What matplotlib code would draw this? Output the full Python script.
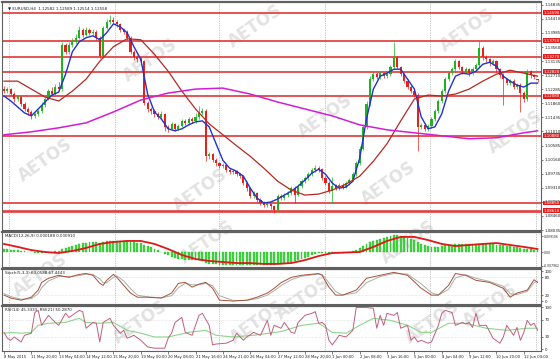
import matplotlib
matplotlib.use("Agg")
import matplotlib.pyplot as plt
import numpy as np

# ---- EURUSD H4 candles (8 May - 12 Jun 2015) ----
bar_open = [
    1.1229, 1.1223, 1.1229, 1.1214, 1.1199, 1.1205, 1.1184, 1.1169, 1.1160, 1.1148,
    1.1154, 1.1163, 1.1181, 1.1199, 1.1223, 1.1214, 1.1235, 1.1229, 1.1363, 1.1342,
    1.1363, 1.1372, 1.1384, 1.1408, 1.1393, 1.1408, 1.1399, 1.1402, 1.1384, 1.1328,
    1.1414, 1.1432, 1.1438, 1.1432, 1.1426, 1.1408, 1.1402, 1.1384, 1.1342, 1.1325,
    1.1319, 1.1313, 1.1187, 1.1169, 1.1163, 1.1154, 1.1145, 1.1154, 1.1115, 1.1109,
    1.1124, 1.1109, 1.1118, 1.1133, 1.1127, 1.1139, 1.1133, 1.1145, 1.1157, 1.1163,
    1.1026, 1.1032, 1.1014, 1.1005, 1.0996, 1.0999, 1.0984, 1.0978, 1.0981, 1.0972,
    1.0966, 1.0945, 1.0930, 1.0906, 1.0915, 1.0894, 1.0885, 1.0879, 1.0882, 1.0876,
    1.0864, 1.0906, 1.0900, 1.0909, 1.0915, 1.0930, 1.0909, 1.0936, 1.0951, 1.0960,
    1.0972, 1.0984, 1.0990, 1.0987, 1.0960, 1.0945, 1.0921, 1.0936, 1.0930, 1.0939,
    1.0933, 1.0945, 1.0954, 1.0972, 1.1005, 1.1049, 1.1115, 1.1184, 1.1259, 1.1274,
    1.1265, 1.1277, 1.1268, 1.1274, 1.1295, 1.1325, 1.1295, 1.1274, 1.1253, 1.1235,
    1.1223, 1.1211, 1.1115, 1.1121, 1.1109, 1.1118, 1.1139, 1.1163, 1.1193, 1.1223,
    1.1259, 1.1277, 1.1289, 1.1313, 1.1295, 1.1283, 1.1289, 1.1277, 1.1289, 1.1301,
    1.1354, 1.1325, 1.1319, 1.1307, 1.1313, 1.1289, 1.1271, 1.1259, 1.1247, 1.1253,
    1.1235, 1.1241, 1.1217, 1.1199, 1.1283, 1.1271, 1.1258]
bar_high = [
    1.1238, 1.1236, 1.1233, 1.1220, 1.1212, 1.1209, 1.1190, 1.1175, 1.1165, 1.1160,
    1.1170, 1.1190, 1.1206, 1.1230, 1.1236, 1.1243, 1.1250, 1.1370, 1.1368, 1.1372,
    1.1383, 1.1395, 1.1420, 1.1414, 1.1416, 1.1413, 1.1410, 1.1407, 1.1390, 1.1420,
    1.1441, 1.1453, 1.1446, 1.1437, 1.1430, 1.1414, 1.1408, 1.1388, 1.1348, 1.1331,
    1.1326, 1.1318, 1.1192, 1.1176, 1.1170, 1.1160, 1.1162, 1.1158, 1.1121, 1.1130,
    1.1128, 1.1125, 1.1140, 1.1138, 1.1146, 1.1145, 1.1158, 1.1178, 1.1172, 1.1168,
    1.1040, 1.1037, 1.1020, 1.1010, 1.1006, 1.1003, 1.0990, 1.0987, 1.0986, 1.0977,
    1.0970, 1.0950, 1.0934, 1.0921, 1.0919, 1.0899, 1.0890, 1.0888, 1.0886, 1.0880,
    1.0912, 1.0911, 1.0915, 1.0921, 1.0936, 1.0935, 1.0942, 1.0957, 1.0967, 1.0980,
    1.0992, 1.0999, 1.0996, 1.0991, 1.0966, 1.0950, 1.0963, 1.0942, 1.0945, 1.0944,
    1.0951, 1.0960, 1.0979, 1.1012, 1.1057, 1.1124, 1.1192, 1.1268, 1.1283, 1.1280,
    1.1285, 1.1282, 1.1281, 1.1302, 1.1372, 1.1330, 1.1300, 1.1279, 1.1258, 1.1240,
    1.1228, 1.1216, 1.1128, 1.1126, 1.1124, 1.1146, 1.1170, 1.1200, 1.1230, 1.1266,
    1.1285, 1.1297, 1.1321, 1.1318, 1.1300, 1.1296, 1.1294, 1.1295, 1.1308, 1.1378,
    1.1360, 1.1331, 1.1324, 1.1320, 1.1318, 1.1294, 1.1277, 1.1264, 1.1260, 1.1258,
    1.1248, 1.1246, 1.1222, 1.1290, 1.1288, 1.1276, 1.1259]
bar_low = [
    1.1216, 1.1218, 1.1208, 1.1191, 1.1194, 1.1178, 1.1162, 1.1152, 1.1140, 1.1142,
    1.1149, 1.1158, 1.1176, 1.1195, 1.1208, 1.1209, 1.1222, 1.1224, 1.1335, 1.1336,
    1.1357, 1.1366, 1.1380, 1.1386, 1.1388, 1.1392, 1.1393, 1.1378, 1.1322, 1.1324,
    1.1409, 1.1426, 1.1425, 1.1418, 1.1400, 1.1394, 1.1378, 1.1336, 1.1316, 1.1310,
    1.1306, 1.1180, 1.1160, 1.1155, 1.1146, 1.1138, 1.1140, 1.1103, 1.1100, 1.1104,
    1.1102, 1.1104, 1.1114, 1.1121, 1.1122, 1.1127, 1.1128, 1.1140, 1.1150, 1.1011,
    1.1018, 1.1008, 1.0998, 1.0990, 1.0991, 1.0978, 1.0972, 1.0972, 1.0966, 1.0960,
    1.0940, 1.0922, 1.0899, 1.0900, 1.0887, 1.0878, 1.0872, 1.0874, 1.0868, 1.0854,
    1.0860, 1.0893, 1.0894, 1.0903, 1.0910, 1.0885, 1.0905, 1.0930, 1.0946, 1.0955,
    1.0968, 1.0979, 1.0980, 1.0954, 1.0938, 1.0914, 1.0885, 1.0924, 1.0925, 1.0927,
    1.0929, 1.0940, 1.0950, 1.0968, 1.1000, 1.1044, 1.1110, 1.1178, 1.1252, 1.1258,
    1.1260, 1.1262, 1.1263, 1.1270, 1.1290, 1.1289, 1.1268, 1.1247, 1.1228, 1.1216,
    1.1204, 1.1043, 1.1108, 1.1102, 1.1103, 1.1113, 1.1134, 1.1158, 1.1188, 1.1218,
    1.1252, 1.1272, 1.1284, 1.1289, 1.1276, 1.1278, 1.1270, 1.1272, 1.1284, 1.1296,
    1.1318, 1.1312, 1.1300, 1.1301, 1.1282, 1.1264, 1.1180, 1.1240, 1.1241, 1.1228,
    1.1229, 1.1160, 1.1190, 1.1194, 1.1264, 1.1259, 1.1251]
bar_close = [
    1.1223, 1.1229, 1.1214, 1.1199, 1.1205, 1.1184, 1.1169, 1.1160, 1.1148, 1.1154,
    1.1163, 1.1181, 1.1199, 1.1223, 1.1214, 1.1235, 1.1229, 1.1363, 1.1342, 1.1363,
    1.1372, 1.1384, 1.1408, 1.1393, 1.1408, 1.1399, 1.1402, 1.1384, 1.1328, 1.1414,
    1.1432, 1.1438, 1.1432, 1.1426, 1.1408, 1.1402, 1.1384, 1.1342, 1.1325, 1.1319,
    1.1313, 1.1187, 1.1169, 1.1163, 1.1154, 1.1145, 1.1154, 1.1115, 1.1109, 1.1124,
    1.1109, 1.1118, 1.1133, 1.1127, 1.1139, 1.1133, 1.1145, 1.1157, 1.1163, 1.1026,
    1.1032, 1.1014, 1.1005, 1.0996, 1.0999, 1.0984, 1.0978, 1.0981, 1.0972, 1.0966,
    1.0945, 1.0930, 1.0906, 1.0915, 1.0894, 1.0885, 1.0879, 1.0882, 1.0876, 1.0864,
    1.0906, 1.0900, 1.0909, 1.0915, 1.0930, 1.0909, 1.0936, 1.0951, 1.0960, 1.0972,
    1.0984, 1.0990, 1.0987, 1.0960, 1.0945, 1.0921, 1.0936, 1.0930, 1.0939, 1.0933,
    1.0945, 1.0954, 1.0972, 1.1005, 1.1049, 1.1115, 1.1184, 1.1259, 1.1274, 1.1265,
    1.1277, 1.1268, 1.1274, 1.1295, 1.1325, 1.1295, 1.1274, 1.1253, 1.1235, 1.1223,
    1.1211, 1.1115, 1.1121, 1.1109, 1.1118, 1.1139, 1.1163, 1.1193, 1.1223, 1.1259,
    1.1277, 1.1289, 1.1313, 1.1295, 1.1283, 1.1289, 1.1277, 1.1289, 1.1301, 1.1354,
    1.1325, 1.1319, 1.1307, 1.1313, 1.1289, 1.1271, 1.1259, 1.1247, 1.1253, 1.1235,
    1.1241, 1.1217, 1.1199, 1.1283, 1.1271, 1.1265, 1.1256]

# moving averages (blue every 2 bars, red every 4, magenta every 8)
ma_fast = [
    1.1208, 1.1193, 1.1175, 1.1157, 1.1148, 1.1169, 1.1190, 1.1211, 1.1220, 1.1274,
    1.1342, 1.1372, 1.1384, 1.1390, 1.1378, 1.1399, 1.1426, 1.1417, 1.1399, 1.1357,
    1.1319, 1.1214, 1.1160, 1.1139, 1.1109, 1.1103, 1.1109, 1.1121, 1.1130, 1.1133,
    1.1115, 1.1064, 1.1014, 1.0990, 1.0981, 1.0966, 1.0930, 1.0900, 1.0885, 1.0888,
    1.0897, 1.0909, 1.0921, 1.0936, 1.0954, 1.0975, 1.0987, 1.0972, 1.0945, 1.0930,
    1.0933, 1.0951, 1.1020, 1.1139, 1.1229, 1.1268, 1.1277, 1.1289, 1.1289, 1.1259,
    1.1229, 1.1145, 1.1109, 1.1115, 1.1154, 1.1223, 1.1268, 1.1277, 1.1274, 1.1283,
    1.1304, 1.1310, 1.1298, 1.1268, 1.1253, 1.1241, 1.1235, 1.1247, 1.1247]
ma_mid = [
    1.1253, 1.1253, 1.1229, 1.1205, 1.1193, 1.1223, 1.1259, 1.1313, 1.1357, 1.1381,
    1.1378, 1.1334, 1.1283, 1.1223, 1.1169, 1.1124, 1.1091, 1.1058, 1.1026, 1.0990,
    1.0951, 1.0924, 1.0909, 1.0912, 1.0924, 1.0942, 1.0966, 1.1011, 1.1064, 1.1133,
    1.1199, 1.1211, 1.1208, 1.1214, 1.1229, 1.1253, 1.1274, 1.1286, 1.1277, 1.1268]
ma_slow_idx = [0, 8, 16, 24, 32, 40, 48, 56, 64, 72, 80, 88, 96, 104, 112, 120,
               128, 136, 144, 152, 156]
ma_slow = [1.1091, 1.1100, 1.1112, 1.1127, 1.1160, 1.1196, 1.1217, 1.1229, 1.1232,
           1.1214, 1.1190, 1.1169, 1.1148, 1.1121, 1.1106, 1.1097, 1.1088, 1.1079,
           1.1082, 1.1097, 1.1103]

# horizontal support / resistance levels
levels = [1.14590, 1.13750, 1.13270, 1.12820, 1.12080, 1.10880, 1.08850, 1.08610]
price_ticks = [1.08035, 1.08460, 1.08885, 1.09310, 1.09735, 1.10160, 1.10585,
               1.11010, 1.11435, 1.11860, 1.12285, 1.12710, 1.13135, 1.13560,
               1.13985, 1.14410, 1.14835]

# MACD(12,26,9): histogram per bar, signal every 4 bars
macd_hist = [
    0.0017, 0.0017, 0.0011, 0.0011, 0.0011, 0.0006, 0.0006, 0.0, 0.0, -0.0006,
    -0.0006, -0.0006, 0.0, 0.0, 0.0, 0.0006, 0.0006, 0.0017, 0.0023, 0.0029,
    0.0034, 0.0040, 0.0046, 0.0051, 0.0051, 0.0057, 0.0057, 0.0057, 0.0051, 0.0057,
    0.0063, 0.0063, 0.0063, 0.0063, 0.0063, 0.0063, 0.0063, 0.0057, 0.0057, 0.0051,
    0.0051, 0.0040, 0.0034, 0.0029, 0.0017, 0.0011, 0.0, -0.0011, -0.0017, -0.0029,
    -0.0034, -0.0040, -0.0040, -0.0046, -0.0046, -0.0046, -0.0046, -0.0046, -0.0051, -0.0063,
    -0.0068, -0.0068, -0.0068, -0.0074, -0.0074, -0.0074, -0.0074, -0.0074, -0.0074, -0.0074,
    -0.0074, -0.0074, -0.0074, -0.0074, -0.0074, -0.0074, -0.0074, -0.0074, -0.0074, -0.0074,
    -0.0068, -0.0068, -0.0063, -0.0063, -0.0057, -0.0051, -0.0046, -0.0040, -0.0034, -0.0029,
    -0.0017, -0.0011, -0.0006, -0.0006, -0.0006, -0.0006, -0.0006, -0.0006, -0.0006, -0.0006,
    0.0, 0.0, 0.0006, 0.0011, 0.0023, 0.0034, 0.0046, 0.0057, 0.0063, 0.0068,
    0.0074, 0.0080, 0.0086, 0.0091, 0.0097, 0.0097, 0.0091, 0.0086, 0.0080, 0.0074,
    0.0068, 0.0057, 0.0046, 0.0040, 0.0034, 0.0029, 0.0029, 0.0029, 0.0034, 0.0040,
    0.0040, 0.0040, 0.0046, 0.0046, 0.0046, 0.0046, 0.0046, 0.0046, 0.0046, 0.0046,
    0.0046, 0.0046, 0.0046, 0.0046, 0.0040, 0.0040, 0.0040, 0.0034, 0.0034, 0.0029,
    0.0029, 0.0023, 0.0017, 0.0017, 0.0017, 0.0011, 0.0011]
macd_signal = [
    0.0046, 0.0029, 0.0011, 0.0, -0.0006, 0.0006, 0.0023, 0.0046, 0.0057, 0.0063,
    0.0063, 0.0046, 0.0017, -0.0017, -0.0040, -0.0051, -0.0057, -0.0063, -0.0063, -0.0068,
    -0.0068, -0.0063, -0.0046, -0.0023, -0.0006, -0.0003, 0.0, 0.0029, 0.0063, 0.0086,
    0.0086, 0.0068, 0.0046, 0.0034, 0.0040, 0.0046, 0.0051, 0.0040, 0.0029, 0.0017]

# Stochastic(5,3,3)
stoch_idx = [0, 2, 5, 8, 10, 11, 13, 16, 19, 22, 24, 26, 28, 29, 30, 32, 33, 35, 37, 39,
             42, 46, 49, 51, 53, 55, 57, 59, 61, 63, 67, 71, 74, 77, 79, 81, 84, 87, 92, 93,
             95, 97, 99, 103, 106, 110, 114, 118, 122, 125, 127, 130, 132, 135, 138, 142,
             146, 148, 150, 153, 155, 156]
stoch_main = [20, 10, 3, 13, 37, 63, 77, 87, 80, 90, 93, 87, 60, 53, 70, 90, 80, 53, 27, 13,
              13, 10, 27, 60, 63, 47, 57, 63, 43, 3, 0, 3, 13, 27, 43, 62, 80, 87, 93, 87,
              47, 20, 20, 37, 77, 87, 97, 87, 43, 20, 20, 53, 93, 87, 70, 63,
              43, 13, 27, 37, 72, 63]
stoch_signal = [25, 15, 6, 8, 25, 45, 68, 83, 83, 86, 91, 90, 75, 62, 62, 80, 85, 68, 42, 20,
                14, 11, 18, 45, 60, 55, 55, 60, 52, 18, 2, 2, 8, 20, 35, 52, 72, 84, 91, 90,
                62, 32, 20, 28, 62, 83, 93, 91, 58, 28, 20, 40, 78, 89, 77, 66,
                50, 25, 22, 33, 62, 67]

# RSI lines
rsi_fast_idx = [0, 1, 2, 3, 5, 6, 8, 9, 10, 11, 13, 15, 16, 18, 19, 22, 23, 24, 25, 26,
                27, 28, 29, 30, 31, 32, 34, 35, 36, 38, 40, 42, 44, 46, 47, 48, 49, 50, 52, 53,
                55, 57, 58, 60, 61, 62, 65, 67, 68, 70, 71, 73, 75, 77, 78, 79, 81, 82, 84, 85,
                86, 88, 90, 91, 92, 93, 94, 95, 96, 97, 98, 100, 102, 103, 106, 108, 109, 110, 111, 112,
                114, 115, 116, 118, 119, 120, 121, 122, 124, 125, 127, 128, 129, 131, 132, 134, 135, 136, 137, 138,
                139, 141, 143, 145, 146, 147, 149, 150, 151, 152, 153, 154, 155, 156]
rsi_fast = [40, 26, 21, 29, 17, 33, 38, 88, 93, 57, 81, 64, 57, 86, 76, 93, 90, 50, 57, 64,
            62, 17, 64, 69, 74, 57, 38, 45, 26, 33, 21, 5, 2, 2, 2, 26, 38, 64, 76, 40,
            33, 81, 86, 57, 10, 12, 14, 21, 38, 21, 29, 40, 33, 69, 33, 57, 50, 64, 40, 38,
            64, 81, 86, 90, 62, 64, 57, 21, 10, 21, 33, 29, 45, 100, 100, 98, 50, 81, 57, 86,
            81, 88, 50, 57, 21, 29, 17, 21, 14, 17, 57, 86, 93, 88, 57, 64, 60, 64, 52, 86,
            57, 57, 26, 14, 29, 57, 33, 52, 21, 40, 69, 57, 62, 45]
rsi_slow_idx = [0, 2, 5, 8, 10, 13, 18, 22, 24, 28, 32, 36, 40, 44, 48, 54, 59, 62, 67, 73,
                81, 87, 92, 93, 96, 100, 104, 108, 113, 118, 122, 125, 130, 135, 141, 147, 153, 156]
rsi_slow = [38, 40, 38, 40, 57, 62, 64, 74, 64, 62, 64, 45, 38, 29, 29, 40, 45, 33, 29, 33,
            42, 57, 62, 57, 40, 38, 57, 74, 69, 57, 40, 40, 62, 62, 50, 45, 50, 50]

x_labels = ["8 May 2015", "11 May 20:00", "13 May 04:00", "14 May 12:00", "15 May 20:00",
            "19 May 00:00", "20 May 08:00", "21 May 16:00", "24 May 21:00", "26 May 04:00",
            "27 May 12:00", "28 May 20:00", "1 Jun 00:00", "2 Jun 08:00", "3 Jun 16:00",
            "5 Jun 00:00", "8 Jun 04:00", "9 Jun 12:00", "10 Jun 20:00", "12 Jun 04:00"]
week_starts = [1.5, 32.5, 63, 94, 124.5, 155.5]

# ---------------------------------------------------------------------------
W, H = 560, 359
fig = plt.figure(figsize=(W / 100, H / 100), dpi=100)
fig.patch.set_facecolor("white")

SMALL = 2.9


def rect(l, t, r, b):
    return [l / W, 1 - b / H, (r - l) / W, (b - t) / H]


bg = fig.add_axes([0, 0, 1, 1], zorder=-1)
bg.set_xlim(0, W)
bg.set_ylim(H, 0)
bg.axis("off")
# AETOS watermark (tiled, light grey)
for wx, wy in [(255, 26), (467, 30), (150, 60), (325, 116), (515, 132), (45, 160),
               (200, 190), (388, 183), (207, 242), (408, 242), (303, 298), (490, 305),
               (140, 322), (257, 322), (432, 322), (40, 275)]:
    bg.text(wx, wy, "AETOS", fontsize=12, fontweight="bold", color="#e2e2e2",
            rotation=35, ha="center", va="center")

ax_p = fig.add_axes(rect(2, 2, 541, 230))
ax_m = fig.add_axes(rect(2, 232, 541, 267))
ax_s = fig.add_axes(rect(2, 268.5, 541, 304))
ax_r = fig.add_axes(rect(2, 305.5, 541, 351))
panels = [ax_p, ax_m, ax_s, ax_r]

xlim = (-0.585, 157.02)
for ax in panels:
    ax.set_facecolor("none")
    ax.set_xlim(*xlim)
    for s in ax.spines.values():
        s.set_color("#606060")
        s.set_linewidth(0.8)
    ax.spines["top"].set_linewidth(1.6)
    ax.tick_params(axis="both", which="both", labelsize=SMALL, length=1.5, width=0.4,
                   pad=1.0, colors="#202020")
    ax.yaxis.tick_right()
    ax.set_xticks([])
    for ws in week_starts:
        ax.axvline(ws, color="#909090", lw=0.5, ls=(0, (1, 1.5)), zorder=1)

# ---- price panel ----
idx = np.arange(len(bar_close))
o = np.array(bar_open)
c = np.array(bar_close)
hi = np.array(bar_high)
lo = np.array(bar_low)
up = c >= o
col = np.where(up, "#1fb31f", "#e8201a")
ax_p.vlines(idx, lo, hi, colors=col, lw=0.5, zorder=3)
body_lo = np.minimum(o, c)
body_h = np.maximum(np.abs(c - o), 0.00008)
ax_p.bar(idx, body_h, bottom=body_lo, width=0.62, color=col, linewidth=0, zorder=4)

ax_p.plot(np.arange(0, len(bar_close), 2), ma_fast, color="#2233cc", lw=1.0, zorder=5)
ax_p.plot(np.arange(0, len(bar_close), 4), ma_mid, color="#b22a22", lw=0.9, zorder=5)
ax_p.plot(ma_slow_idx, ma_slow, color="#d21ed2", lw=1.1, zorder=5)

for k, lv in enumerate(levels):
    ax_p.axhline(lv, color="#e04848", lw=2.0 if k == len(levels) - 1 else 1.3, zorder=2)

ax_p.set_ylim(1.08103, 1.14920)
ax_p.set_yticks(price_ticks)
ax_p.set_yticklabels([f"{v:.5f}" for v in price_ticks])
for lv in levels:
    ax_p.text(1.0045, lv, f"{lv:.5f}", transform=ax_p.get_yaxis_transform(),
              fontsize=SMALL, color="white", va="center", ha="left", zorder=6,
              bbox=dict(boxstyle="square,pad=0.12", fc="#e02020", ec="none"),
              clip_on=False)

ax_p.text(0.012, 0.982, "\u25BC EURUSD,H4  1.12582 1.12589 1.12514 1.12558",
          transform=ax_p.transAxes, fontsize=SMALL, va="top", ha="left", color="#202020")

# ---- MACD ----
ax_m.bar(idx, macd_hist, width=0.55, color="#3ddc3d", edgecolor="#22a022",
         linewidth=0.2, zorder=3)
ax_m.plot(np.arange(0, len(bar_close), 4), macd_signal, color="#e01818", lw=1.3, zorder=4)
ax_m.set_ylim(-0.00855, 0.0114)
ax_m.set_yticks([0.009106, 0.0, -0.007962])
ax_m.set_yticklabels(["0.009106", "0.00", "-0.007962"], fontsize=2.2)
ax_m.tick_params(axis="y", pad=0.6)
ax_m.text(0.005, 0.93, "MACD(12,26,9) 0.000188 0.000910", transform=ax_m.transAxes,
          fontsize=SMALL, va="top", ha="left", color="#202020")

# ---- Stochastic ----
for lv in (80, 20):
    ax_s.axhline(lv, color="#c8c8c8", lw=0.4, ls=(0, (1, 1.5)), zorder=1)
ax_s.plot(stoch_idx, stoch_signal, color="#a8b0a4", lw=0.7, zorder=3)
ax_s.plot(stoch_idx, stoch_main, color="#a8503a", lw=0.7, zorder=4)
ax_s.set_ylim(-10, 110)
ax_s.set_yticks([100, 80, 20, 0])
ax_s.text(0.005, 0.93, "Stoch(5,3,3) 63.0588 67.4443", transform=ax_s.transAxes,
          fontsize=SMALL, va="top", ha="left", color="#202020")

# ---- RSI ----
for lv in (70, 30):
    ax_r.axhline(lv, color="#c8c8c8", lw=0.4, ls=(0, (1, 1.5)), zorder=1)
ax_r.plot(rsi_slow_idx, rsi_slow, color="#8fd48f", lw=0.8, zorder=3)
ax_r.plot(rsi_fast_idx, rsi_fast, color="#c0607a", lw=0.7, zorder=4)
ax_r.set_ylim(-4.8, 104.8)
ax_r.set_yticks([100, 70, 30, 0])
ax_r.text(0.005, 0.95, "RSI(14) 45.3333  RSI(21) 50.2870", transform=ax_r.transAxes,
          fontsize=SMALL, va="top", ha="left", color="#202020")

ax_r.set_xticks(np.arange(0, 8 * len(x_labels), 8))
ax_r.set_xticklabels(x_labels, ha="left", fontsize=2.7)
ax_r.tick_params(axis="x", length=2, pad=1.0)

fig.savefig("out.png", dpi=100, facecolor="white")
